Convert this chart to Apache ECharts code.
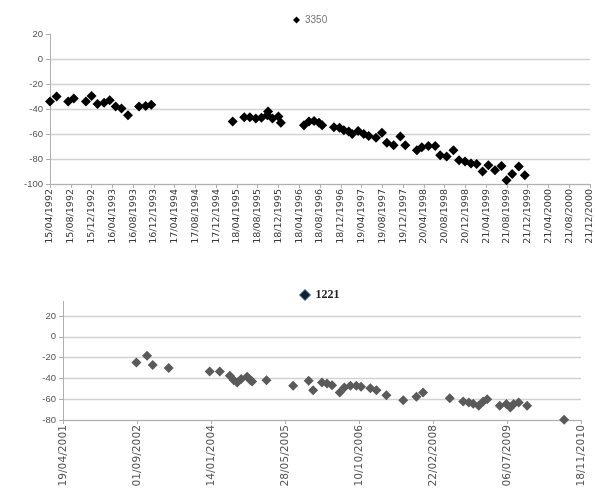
<!DOCTYPE html>
<html>
<head>
<meta charset="utf-8">
<script src="https://cdn.jsdelivr.net/npm/echarts@6/dist/echarts.min.js"></script>
<style>html,body{margin:0;padding:0;background:#fff}#c{width:595px;height:499px}</style>
</head>
<body>
<div id="c"></div>
<script>
// ---- Data: series 3350 (top chart) ----
const dates3350 = [
 '1992-04-15','1992-05-24','1992-07-31','1992-09-02','1992-11-12','1992-12-15','1993-01-19','1993-02-27',
 '1993-04-01','1993-05-06','1993-06-09','1993-07-17','1993-09-20','1993-10-29','1993-12-01',
 '1995-03-24','1995-05-31','1995-07-03','1995-08-07','1995-09-09','1995-10-14','1995-10-18','1995-11-13',
 '1995-12-18','1996-01-01',
 '1996-05-16','1996-06-14','1996-07-14','1996-08-12','1996-08-31','1996-11-08','1996-12-11','1997-01-05',
 '1997-02-03','1997-02-23','1997-03-30','1997-05-02','1997-05-31','1997-07-13','1997-08-17','1997-09-15',
 '1997-10-25','1997-12-03','1998-01-01','1998-03-10','1998-04-08','1998-05-17','1998-06-26','1998-07-25',
 '1998-09-01','1998-10-11','1998-11-13','1998-12-18','1999-01-22','1999-02-24','1999-03-31','1999-05-04',
 '1999-06-12','1999-07-20','1999-08-19','1999-09-21','1999-10-30','1999-12-04'
];
const values3350 = [
 -34,-30,-34,-31.5,-34,-29.5,-36,-35,
 -33,-38,-39.5,-45,-38,-37.5,-36.5,
 -50,-46.5,-46.5,-47.5,-47,-45,-42,-47.5,
 -46,-51,
 -53,-50,-49.5,-51,-53,-54.5,-55,-57,
 -58,-60,-57.5,-60,-61.5,-63,-59,-67,
 -69,-62,-69,-73,-70.5,-69.5,-69.5,-77,
 -78,-73,-81,-82,-83.5,-84,-90,-85,
 -89,-85.5,-97,-92,-86,-93
];
// ---- Data: series 1221 (bottom chart) ----
const dates1221 = [
 '2002-08-28','2002-11-08','2002-12-16','2003-04-03','2004-01-05','2004-03-13','2004-05-20','2004-06-16',
 '2004-07-09','2004-08-05','2004-09-14','2004-10-07','2004-10-18','2005-01-23','2005-07-22','2005-11-04',
 '2005-12-04','2006-02-02','2006-03-08','2006-04-11','2006-06-02','2006-07-03','2006-08-13','2006-09-22',
 '2006-10-24','2006-12-26','2007-02-05','2007-04-13','2007-08-05','2007-11-02','2007-12-17','2008-06-14',
 '2008-09-13','2008-10-21','2008-11-20','2008-12-27','2009-01-26','2009-02-22','2009-05-18','2009-07-02',
 '2009-07-29','2009-08-20','2009-09-23','2009-11-19','2010-07-27'
];
const values1221 = [
 -24.7,-18.3,-27.2,-30.1,-33.4,-33.4,-37.5,-41.7,
 -44,-40.7,-38.5,-41.7,-43,-41.7,-47,-42.3,
 -51.3,-44,-45,-46.5,-53.6,-48.8,-47.1,-47.1,
 -48.1,-49.4,-51.3,-56.1,-60.9,-57.7,-53.6,-59,
 -62.2,-63.2,-64.5,-66.4,-62.2,-60,-66.4,-64.7,
 -68,-64.7,-63.2,-66.4,-79.8
];
// ---- Axis settings (tick labels come from these) ----
const axisTop = {start: '1992-04-15', end: '2000-12-21', stepDays: 122, yMin: -100, yMax: 20, yStep: 20};
const axisBottom = {start: '2001-04-19', end: '2010-11-18', stepDays: 500, yMin: -80, yMax: 34, yStep: 20};

const DAY = 86400000;
function ms(s){const p=s.split('-');return Date.UTC(+p[0],+p[1]-1,+p[2]);}
function fmt(v){const d=new Date(v);const dd=String(d.getUTCDate()).padStart(2,'0');
  const mm=String(d.getUTCMonth()+1).padStart(2,'0');return dd+'/'+mm+'/'+d.getUTCFullYear();}
function pairs(ds,vs){return ds.map((d,i)=>[ms(d),vs[i]]);}

const gridColor='#d2d2d2', axisColor='#b0b0b0';
function xAx(gi,a,fs,col){return {type:'value',gridIndex:gi,min:ms(a.start),max:ms(a.end),interval:a.stepDays*DAY,
  axisLine:{onZero:false,lineStyle:{color:axisColor}},axisTick:{show:true,length:4,lineStyle:{color:axisColor}},
  splitLine:{show:false},
  axisLabel:{rotate:90,fontSize:fs,color:col,margin:5,formatter:fmt,fontFamily:'DejaVu Sans'}};}
function yAx(gi,a,fs){return {type:'value',gridIndex:gi,min:a.yMin,max:a.yMax,interval:a.yStep,
  axisLine:{show:true,lineStyle:{color:axisColor}},axisTick:{show:true,length:4,lineStyle:{color:axisColor}},
  splitLine:{show:true,showMaxLine:false,lineStyle:{color:gridColor,width:1.3}},
  axisLabel:{fontSize:fs,color:'#555',margin:7,showMaxLabel:a.yMax%a.yStep===0,fontFamily:'Liberation Sans, Arial'}};}

const chart=echarts.init(document.getElementById('c'),null,{renderer:'canvas'});
chart.setOption({
  animation:false,
  backgroundColor:'#fff',
  legend:[
    {left:288,top:10,itemWidth:7,itemHeight:7,itemGap:5,data:['3350'],
     textStyle:{fontSize:10,color:'#777',fontFamily:'Liberation Sans, Arial'}},
    {left:294,top:284,itemWidth:11,itemHeight:11,itemGap:8,
     data:[{name:'1221',icon:'diamond',itemStyle:{color:'#12222f',borderColor:'#3a6a90',borderWidth:1,opacity:1}}],
     textStyle:{fontSize:12,fontWeight:'bold',color:'#222',fontFamily:'Liberation Serif, Times New Roman'}}
  ],
  grid:[
    {left:50,right:4,top:34,height:150},
    {left:63,right:14,top:301.4,height:118.6}
  ],
  xAxis:[xAx(0,axisTop,9.5,'#3a3a3a'),xAx(1,axisBottom,10.7,'#555')],
  yAxis:[yAx(0,axisTop,9.5),yAx(1,axisBottom,9.5)],
  series:[
    {name:'3350',type:'scatter',xAxisIndex:0,yAxisIndex:0,symbol:'diamond',symbolSize:10,
     itemStyle:{color:'#000',opacity:1},data:pairs(dates3350,values3350)},
    {name:'1221',type:'scatter',xAxisIndex:1,yAxisIndex:1,symbol:'diamond',symbolSize:10,
     itemStyle:{color:'#5a5a5a',opacity:1},data:pairs(dates1221,values1221)}
  ]
});
</script>
</body>
</html>
